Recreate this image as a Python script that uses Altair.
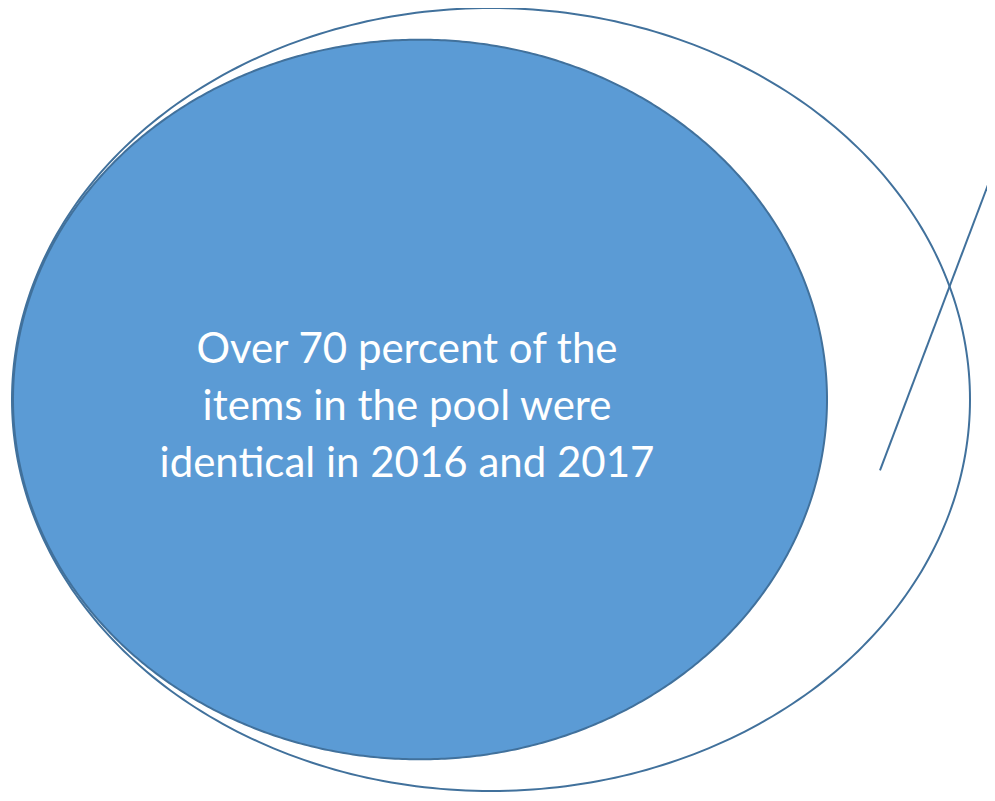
import altair as alt
import pandas as pd

# Ellipse geometry (pixel units of the picture)
shape_names = ["outer", "inner"]
center_x = [491.0, 420.0]
center_y = [403.5, 403.5]
radius_x = [479.0, 407.0]
radius_y = [395.5, 363.5]

# Diagonal connector line
line_x = [880, 995]
line_y = [475, 168]

text_lines = ["Over 70 percent of the", "items in the pool were", "identical in 2016 and 2017"]
text_anchor = [407, 353]

STROKE = "#41719c"
FILL = "#5b9bd5"

W, H = 979, 785
xs = alt.Scale(domain=[8, 8 + W], nice=False, zero=False)
ys = alt.Scale(domain=[8, 801], nice=False, zero=False, reverse=True)

def X(field):
    return alt.X(field, type="quantitative", scale=xs, axis=None)

def Y(field):
    return alt.Y(field, type="quantitative", scale=ys, axis=None)

# outer ellipse outline
o = 0
outer = (
    alt.Chart(alt.sequence(0, 361, 1, as_="t"))
    .transform_calculate(
        ex=f"{center_x[o]} + {radius_x[o]}*cos(datum.t*PI/180)",
        ey=f"{center_y[o]} + {radius_y[o]}*sin(datum.t*PI/180)",
    )
    .mark_line(color=STROKE, strokeWidth=2)
    .encode(x=X("ex"), y=Y("ey"), order=alt.Order("t:Q"))
)

# inner filled ellipse
i = 1
inner = (
    alt.Chart(alt.sequence(0, 180.5, 0.5, as_="t"))
    .transform_calculate(
        ex=f"{center_x[i]} + {radius_x[i]}*cos(datum.t*PI/180)",
        ey=f"{center_y[i]} - {radius_y[i]}*sin(datum.t*PI/180)",
        ey2=f"{center_y[i]} + {radius_y[i]}*sin(datum.t*PI/180)",
    )
    .mark_area(fill=FILL, stroke=STROKE, strokeWidth=2, opacity=1)
    .encode(x=X("ex"), y=Y("ey"), y2="ey2:Q")
)

line_df = pd.DataFrame({"x": line_x, "y": line_y})
connector = (
    alt.Chart(line_df)
    .mark_line(color=STROKE, strokeWidth=2, clip=True)
    .encode(x=X("x"), y=Y("y"))
)

text_df = pd.DataFrame({"x": [text_anchor[0]], "y": [text_anchor[1]], "label": [text_lines]})
label = (
    alt.Chart(text_df)
    .mark_text(
        color="white",
        font="Lato",
        fontSize=42,
        lineHeight=57,
        align="center",
        baseline="middle",
    )
    .encode(x=X("x"), y=Y("y"), text="label")
)

chart = (
    alt.layer(inner, outer, connector, label)
    .properties(width=W, height=H, padding=0, autosize=alt.AutoSizeParams(type="none"))
    .configure_view(stroke=None)
)

chart.save("out.html", embed_options={"renderer": "svg", "actions": False})
